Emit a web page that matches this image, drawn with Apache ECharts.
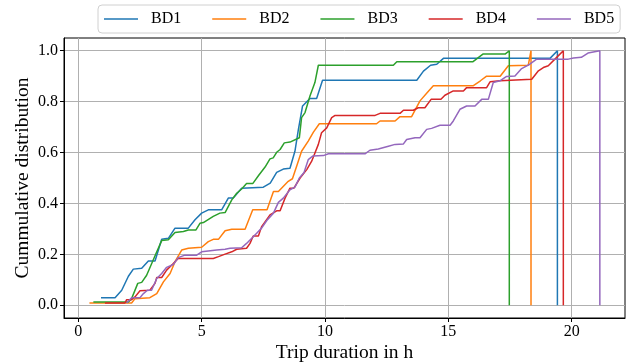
<!DOCTYPE html>
<html>
<head>
<meta charset="utf-8">
<script src="https://cdn.jsdelivr.net/npm/echarts@6/dist/echarts.min.js"></script>
<style>
  html, body { margin: 0; padding: 0; background: #fff; }
  #chart { width: 630px; height: 364px; }
</style>
</head>
<body>
<div id="chart"></div>
<script>
// trip duration (h) vs cumulative share
var bd1 = [[0.92,0.03],[1.49,0.03],[1.76,0.059],[2.03,0.114],[2.23,0.142],[2.57,0.145],[2.84,0.174],[3.11,0.174],
  [3.38,0.259],[3.65,0.263],[3.92,0.303],[4.46,0.303],[4.73,0.336],[5.0,0.362],[5.27,0.375],[5.81,0.375],
  [6.08,0.421],[6.28,0.421],[6.62,0.46],[7.5,0.464],[7.78,0.48],[8.04,0.522],[8.31,0.535],[8.58,0.538],
  [8.78,0.605],[8.92,0.69],[9.09,0.783],[9.39,0.812],[9.66,0.812],[9.9,0.884],[13.72,0.884],[13.99,0.92],
  [14.28,0.943],[14.53,0.947],[14.8,0.97],[19.12,0.97],[19.42,1.0],[19.42,0]];
var bd2 = [[0.45,0.009],[2.16,0.009],[2.3,0.026],[2.9,0.03],[3.18,0.046],[3.45,0.092],[3.72,0.125],[3.92,0.171],
  [4.19,0.217],[4.46,0.224],[5.0,0.228],[5.27,0.25],[5.47,0.259],[5.68,0.259],[5.95,0.293],[6.22,0.299],
  [6.76,0.299],[7.07,0.375],[7.65,0.375],[7.91,0.447],[8.11,0.447],[8.51,0.487],[8.68,0.497],[8.85,0.546],
  [9.05,0.605],[9.32,0.645],[9.53,0.68],[9.77,0.713],[12.09,0.713],[12.23,0.724],[12.84,0.724],[13.04,0.741],
  [13.51,0.741],[13.85,0.803],[14.12,0.833],[14.39,0.862],[16.0,0.862],[16.3,0.882],[16.55,0.9],[17.1,0.9],
  [17.43,0.941],[18.24,0.943],[18.35,1.0],[18.35,0]];
var bd3 = [[0.61,0.013],[2.03,0.013],[2.16,0.026],[2.41,0.086],[2.57,0.09],[2.77,0.118],[3.18,0.21],[3.38,0.254],
  [3.65,0.257],[3.92,0.286],[4.26,0.29],[4.46,0.296],[4.77,0.296],[4.93,0.322],[5.07,0.325],[5.47,0.349],
  [5.74,0.362],[5.95,0.364],[6.22,0.414],[6.42,0.44],[6.62,0.457],[6.82,0.478],[7.07,0.478],[7.3,0.509],
  [7.57,0.543],[7.77,0.575],[7.9,0.579],[8.04,0.601],[8.18,0.612],[8.35,0.638],[8.58,0.641],[8.96,0.658],
  [9.05,0.737],[9.19,0.757],[9.39,0.822],[9.59,0.875],[9.73,0.943],[12.77,0.943],[12.91,0.957],[16.0,0.957],
  [16.4,0.987],[17.3,0.987],[17.47,1.0],[17.47,0]];
var bd4 = [[1.08,0.009],[1.89,0.009],[1.96,0.022],[2.16,0.022],[2.3,0.033],[2.5,0.057],[2.9,0.059],[3.11,0.086],
  [3.18,0.109],[3.38,0.109],[3.58,0.138],[3.85,0.164],[4.05,0.184],[5.47,0.184],[5.68,0.191],[5.95,0.201],
  [6.22,0.21],[6.42,0.22],[6.82,0.224],[6.96,0.243],[7.09,0.272],[7.3,0.272],[7.43,0.309],[7.77,0.355],
  [8.04,0.371],[8.18,0.371],[8.38,0.421],[8.58,0.46],[8.74,0.46],[8.99,0.5],[9.26,0.533],[9.46,0.566],
  [9.73,0.632],[9.86,0.678],[10.07,0.697],[10.27,0.737],[10.41,0.746],[12.03,0.746],[12.23,0.754],[13.04,0.754],
  [13.18,0.766],[13.58,0.766],[13.78,0.776],[14.05,0.776],[14.3,0.809],[14.7,0.809],[14.86,0.825],[15.2,0.842],
  [15.61,0.842],[15.74,0.855],[16.55,0.855],[16.69,0.878],[17.09,0.882],[18.38,0.888],[18.65,0.921],[18.85,0.934],
  [19.05,0.941],[19.39,0.974],[19.66,1.0],[19.66,0]];
var bd5 = [[1.96,0.009],[2.16,0.03],[2.5,0.03],[2.64,0.046],[2.8,0.059],[2.97,0.059],[3.18,0.105],[3.38,0.125],
  [3.58,0.149],[3.85,0.16],[4.05,0.187],[4.32,0.197],[4.8,0.197],[5.0,0.21],[5.61,0.217],[5.95,0.22],
  [6.15,0.224],[6.62,0.226],[6.82,0.243],[7.03,0.263],[7.23,0.283],[7.43,0.303],[7.64,0.333],[7.91,0.362],
  [8.11,0.404],[8.31,0.421],[8.58,0.454],[8.78,0.464],[8.96,0.5],[9.15,0.522],[9.32,0.572],[9.5,0.586],
  [9.93,0.588],[10.14,0.595],[11.62,0.595],[11.82,0.609],[12.16,0.614],[12.57,0.625],[12.84,0.632],[13.18,0.634],
  [13.31,0.651],[13.65,0.658],[13.85,0.658],[14.12,0.691],[14.32,0.695],[14.66,0.707],[15.07,0.707],[15.2,0.724],
  [15.47,0.77],[15.74,0.783],[16.08,0.783],[16.35,0.809],[16.62,0.809],[16.82,0.875],[17.09,0.882],[17.36,0.899],
  [17.7,0.901],[17.97,0.93],[18.3,0.947],[18.58,0.967],[19.86,0.967],[20.07,0.971],[20.39,0.974],[20.66,0.991],
  [21.14,1.0],[21.14,0]];

var names = ['BD1', 'BD2', 'BD3', 'BD4', 'BD5'];
var xTicks = [0, 5, 10, 15, 20];
var yTicks = [0, 0.2, 0.4, 0.6, 0.8, 1.0];

var colors = ['#1f77b4', '#ff7f0e', '#2ca02c', '#d62728', '#9467bd'];
var font = 'Liberation Serif';

var chart = echarts.init(document.getElementById('chart'), null, {renderer: 'canvas'});

var series = [bd1, bd2, bd3, bd4, bd5].map(function (d, i) {
  return {
    name: names[i],
    type: 'line',
    data: d,
    showSymbol: false,
    symbol: 'none',
    animation: false,
    lineStyle: {width: 1.5, color: colors[i]},
    itemStyle: {color: colors[i]}
  };
});

chart.setOption({
  animation: false,
  color: colors,
  grid: {left: 64, right: 5, top: 38, bottom: 46, outerBoundsMode: 'none', containLabel: false,
    show: true, borderColor: '#000', borderWidth: 1},
  legend: {
    data: names,
    left: 98, top: 5,
    padding: [6, 6, 6, 6],
    borderColor: '#d0d0d0', borderWidth: 1, borderRadius: 4,
    icon: 'rect', itemWidth: 34, itemHeight: 1.5, itemGap: 31,
    textStyle: {fontFamily: font, fontSize: 16, color: '#000', padding: [0, 0, 0, 8]}
  },
  xAxis: {
    type: 'value', min: -0.58, max: 22.16,
    name: 'Trip duration in h', nameLocation: 'middle', nameGap: 25, nameMoveOverlap: false,
    nameTextStyle: {fontFamily: font, fontSize: 19.5, color: '#000'},
    axisLine: {onZero: false, lineStyle: {color: '#000'}},
    axisTick: {show: true, length: 4, lineStyle: {color: '#000'}, customValues: xTicks},
    axisLabel: {fontFamily: font, fontSize: 16, color: '#000', margin: 6, customValues: xTicks},
    splitLine: {show: true, lineStyle: {color: '#b0b0b0', width: 1}}
  },
  yAxis: {
    type: 'value', min: -0.05, max: 1.05,
    name: 'Cummulative distribution', nameLocation: 'middle', nameGap: 31, nameMoveOverlap: false,
    nameTextStyle: {fontFamily: font, fontSize: 19.5, color: '#000'},
    axisLine: {show: true, onZero: false, lineStyle: {color: '#000'}},
    axisTick: {show: true, length: 4, lineStyle: {color: '#000'}, customValues: yTicks},
    axisLabel: {fontFamily: font, fontSize: 16, color: '#000', margin: 6, customValues: yTicks,
      formatter: function (v) { return v.toFixed(1); }},
    splitLine: {show: true, lineStyle: {color: '#b0b0b0', width: 1}}
  },
  series: series
});
</script>
</body>
</html>
